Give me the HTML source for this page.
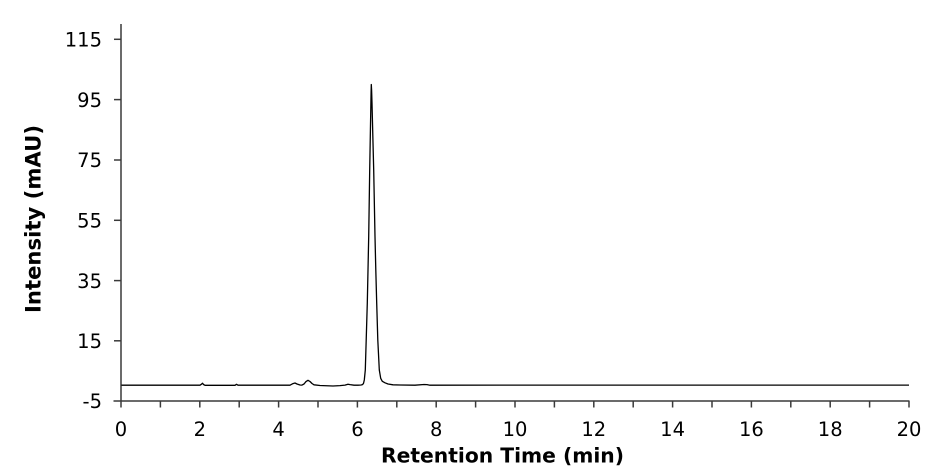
<!DOCTYPE html>
<html>
<head>
<meta charset="utf-8">
<style>
  html, body { margin: 0; padding: 0; background: #ffffff; }
  body { width: 950px; height: 469px; overflow: hidden; }
  svg { display: block; }
  .tick { font-family: "DejaVu Sans", "Liberation Sans", sans-serif; font-size: 19.5px; fill: #000; }
  .title { font-family: "DejaVu Sans", "Liberation Sans", sans-serif; font-size: 20px; font-weight: bold; fill: #000; }
</style>
</head>
<body>
<svg width="950" height="469" viewBox="0 0 950 469" xmlns="http://www.w3.org/2000/svg">
  <rect x="0" y="0" width="950" height="469" fill="#ffffff"/>

  <!-- Axes -->
  <g stroke="#3a3a3a" stroke-width="1.5" fill="none">
    <line x1="121" y1="24" x2="121" y2="401.5"/>
    <line x1="113.5" y1="401" x2="909.5" y2="401"/>
    <line x1="114" y1="39.3" x2="121" y2="39.3"/>
    <line x1="114" y1="99.6" x2="121" y2="99.6"/>
    <line x1="114" y1="160" x2="121" y2="160"/>
    <line x1="114" y1="220.3" x2="121" y2="220.3"/>
    <line x1="114" y1="280.6" x2="121" y2="280.6"/>
    <line x1="114" y1="340.8" x2="121" y2="340.8"/>
    <line x1="121" y1="401" x2="121" y2="407.5"/>
    <line x1="160.4" y1="401" x2="160.4" y2="407.5"/>
    <line x1="199.8" y1="401" x2="199.8" y2="407.5"/>
    <line x1="239.2" y1="401" x2="239.2" y2="407.5"/>
    <line x1="278.6" y1="401" x2="278.6" y2="407.5"/>
    <line x1="318" y1="401" x2="318" y2="407.5"/>
    <line x1="357.4" y1="401" x2="357.4" y2="407.5"/>
    <line x1="396.8" y1="401" x2="396.8" y2="407.5"/>
    <line x1="436.2" y1="401" x2="436.2" y2="407.5"/>
    <line x1="475.6" y1="401" x2="475.6" y2="407.5"/>
    <line x1="515" y1="401" x2="515" y2="407.5"/>
    <line x1="554.4" y1="401" x2="554.4" y2="407.5"/>
    <line x1="593.8" y1="401" x2="593.8" y2="407.5"/>
    <line x1="633.2" y1="401" x2="633.2" y2="407.5"/>
    <line x1="672.6" y1="401" x2="672.6" y2="407.5"/>
    <line x1="712" y1="401" x2="712" y2="407.5"/>
    <line x1="751.4" y1="401" x2="751.4" y2="407.5"/>
    <line x1="790.8" y1="401" x2="790.8" y2="407.5"/>
    <line x1="830.2" y1="401" x2="830.2" y2="407.5"/>
    <line x1="869.6" y1="401" x2="869.6" y2="407.5"/>
    <line x1="909" y1="401" x2="909" y2="407.5"/>
  </g>

  <!-- Y tick labels -->
  <g class="tick" text-anchor="end">
    <text x="102" y="46.5">115</text>
    <text x="102" y="106.8">95</text>
    <text x="102" y="167.2">75</text>
    <text x="102" y="227.5">55</text>
    <text x="102" y="287.8">35</text>
    <text x="102" y="348">15</text>
    <text x="102" y="408.2">-5</text>
  </g>

  <!-- X tick labels -->
  <g class="tick" text-anchor="middle">
    <text x="121" y="436">0</text>
    <text x="199.8" y="436">2</text>
    <text x="278.6" y="436">4</text>
    <text x="357.4" y="436">6</text>
    <text x="436.2" y="436">8</text>
    <text x="515" y="436">10</text>
    <text x="593.8" y="436">12</text>
    <text x="672.6" y="436">14</text>
    <text x="751.4" y="436">16</text>
    <text x="830.2" y="436">18</text>
    <text x="909" y="436">20</text>
  </g>

  <!-- Axis titles -->
  <text class="title" x="502.5" y="462.5" text-anchor="middle" textLength="243" lengthAdjust="spacingAndGlyphs">Retention Time (min)</text>
  <text class="title" transform="translate(40.5,219) scale(1.08,1) rotate(-90)" text-anchor="middle" textLength="188" lengthAdjust="spacingAndGlyphs">Intensity (mAU)</text>

  <!-- Chromatogram trace -->
  <polyline fill="none" stroke="#000" stroke-width="1.3" stroke-linejoin="round" points="
    121.5,385.2 160,385.2 200,385.2 201.5,384.2 202.5,383.2 203.5,384.5 205,385.3
    235,385.3 236.5,384.3 238,385.2
    290,385.2 293,383.6 295,383 297,384 300,385 302,385.1 304,384 306,381.6 308,380.3 310,381.5 312,383.5 314,384.8
    320,385.5 333,386 340,385.6 345,385.1 348,384.2 350,384.6 354,385.2 358,385.2
    361,385 362.5,384.6 363.5,383.4 364.3,380 365.3,370 366.2,340 367.3,303 368,270 368.7,236.7 369.7,170 370.5,125 371.1,92 371.3,84.5
    371.6,90 372,103 372.8,135 373.7,170 375,236.7 375.8,270 376.7,303 377.8,340 379.3,370 380.7,378.3 382.3,381.3 385,382.8 388,384 393,384.8 400,385
    415,385.2 424,384.5 427,384.6 430,385.2 500,385.1 909,385.1"/>
</svg>
</body>
</html>
